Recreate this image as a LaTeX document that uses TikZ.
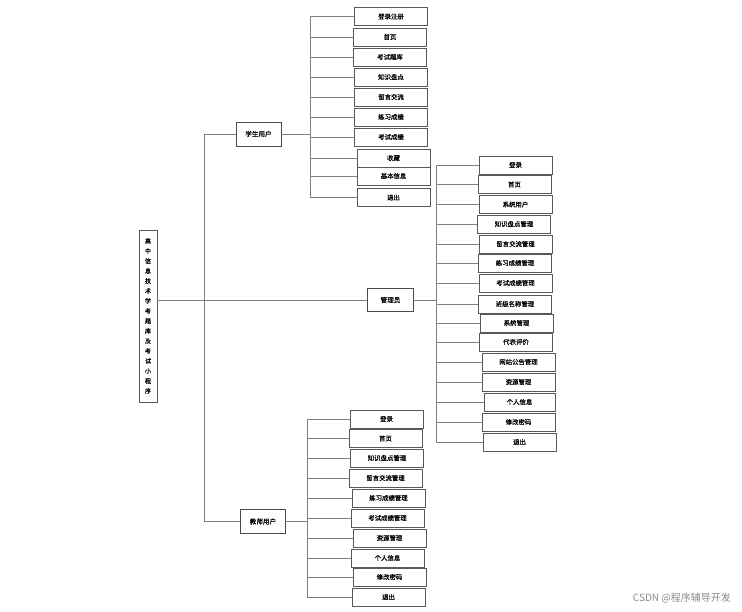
\documentclass[tikz,border=0pt]{standalone}
\usepackage{fontspec}
\newfontfamily\cjk[FakeBold=0.6]{Noto Sans CJK SC}
\newfontfamily\cjkwm{Noto Sans CJK SC}
\begin{document}
\begin{tikzpicture}[x=1pt,y=-1pt,
  leaf/.style={draw=black!65,line width=0.9pt,fill=white,minimum width=73pt,minimum height=18pt,inner sep=0pt,font=\cjk\fontsize{6.4}{7}\selectfont},
  mid/.style={draw=black!70,line width=0.9pt,fill=white,minimum width=45pt,minimum height=24pt,inner sep=0pt,font=\cjk\fontsize{6.6}{7}\selectfont},
  rootbox/.style={draw=black!65,line width=0.9pt,fill=white,minimum width=18pt,minimum height=172pt,inner sep=0pt,align=center,font=\cjk\fontsize{6}{10}\selectfont},
  conn/.style={draw=black!50,line width=1pt}]
\useasboundingbox (0,0) rectangle (742,611);
\fill[white] (0,0) rectangle (742,611);
% main nodes
\node[rootbox] (root) at (148,316) {高\\中\\信\\息\\技\\术\\学\\考\\题\\库\\及\\考\\试\\小\\程\\序};
\node[mid] (stu) at (258.5,134) {学生用户};
\node[mid,minimum width=46pt,minimum height=23pt] (adm) at (390.5,300) {管理员};
\node[mid] (tea) at (263,521.5) {教师用户};
\coordinate (tx) at (204,0);
\coordinate (sbus) at (310,0);
\coordinate (abus) at (436,0);
\coordinate (tbus) at (307,0);
% student leaves
\node[leaf] (s1) at (391,16.5) {登录注册};
\node[leaf] (s2) at (390,37) {首页};
\node[leaf] (s3) at (390,57) {考试题库};
\node[leaf] (s4) at (391,77) {知识盘点};
\node[leaf] (s5) at (391,97) {留言交流};
\node[leaf] (s6) at (391,117) {练习成绩};
\node[leaf] (s7) at (391,137) {考试成绩};
\node[leaf] (s8) at (393.5,158) {收藏};
\node[leaf] (s9) at (393.5,176) {基本信息};
\node[leaf] (s10) at (393.5,197.5) {退出};
% admin leaves
\node[leaf] (a1) at (515.5,165) {登录};
\node[leaf] (a2) at (514.5,184.5) {首页};
\node[leaf] (a3) at (515.5,204.5) {系统用户};
\node[leaf] (a4) at (514,224) {知识盘点管理};
\node[leaf] (a5) at (515.5,244) {留言交流管理};
\node[leaf] (a6) at (515,263) {练习成绩管理};
\node[leaf] (a7) at (515.5,283) {考试成绩管理};
\node[leaf] (a8) at (515,304) {班级名称管理};
\node[leaf] (a9) at (516.5,323) {系统管理};
\node[leaf] (a10) at (516,342) {代表评价};
\node[leaf] (a11) at (518.5,362) {网站公告管理};
\node[leaf] (a12) at (518.5,382) {资源管理};
\node[leaf,minimum width=71pt] (a13) at (519.5,402) {个人信息};
\node[leaf] (a14) at (518.5,422) {修改密码};
\node[leaf] (a15) at (519.5,442) {退出};
% teacher leaves
\node[leaf] (t1) at (386.5,419) {登录};
\node[leaf] (t2) at (385.5,438.5) {首页};
\node[leaf] (t3) at (387,458) {知识盘点管理};
\node[leaf] (t4) at (385.5,478) {留言交流管理};
\node[leaf] (t5) at (388.5,498) {练习成绩管理};
\node[leaf] (t6) at (387.5,518) {考试成绩管理};
\node[leaf] (t7) at (389.5,538) {资源管理};
\node[leaf] (t8) at (387.5,558) {个人信息};
\node[leaf] (t9) at (389.5,577) {修改密码};
\node[leaf] (t10) at (388.5,597) {退出};
% trunk
\draw[conn] (stu.west) -- (stu.west -| tx) -- (tea.west -| tx) -- (tea.west);
\draw[conn] (root.east |- adm.west) -- (adm.west);
% student bus
\draw[conn] (stu.east) -- (stu.east -| sbus);
\draw[conn] (s1.west -| sbus) -- (s10.west -| sbus);
\foreach \n in {s1,s2,s3,s4,s5,s6,s7,s8,s9,s10} \draw[conn] (\n.west -| sbus) -- (\n.west);
% admin bus
\draw[conn] (adm.east) -- (adm.east -| abus);
\draw[conn] (a1.west -| abus) -- (a15.west -| abus);
\foreach \n in {a1,a2,a3,a4,a5,a6,a7,a8,a9,a10,a11,a12,a13,a14,a15} \draw[conn] (\n.west -| abus) -- (\n.west);
% teacher bus
\draw[conn] (tea.east) -- (tea.east -| tbus);
\draw[conn] (t1.west -| tbus) -- (t10.west -| tbus);
\foreach \n in {t1,t2,t3,t4,t5,t6,t7,t8,t9,t10} \draw[conn] (\n.west -| tbus) -- (\n.west);
\node[font=\cjkwm\fontsize{10}{12}\selectfont,text=black!45,anchor=east,inner sep=0pt] (wm) at (731,598) {CSDN @程序辅导开发};
\end{tikzpicture}
\end{document}
